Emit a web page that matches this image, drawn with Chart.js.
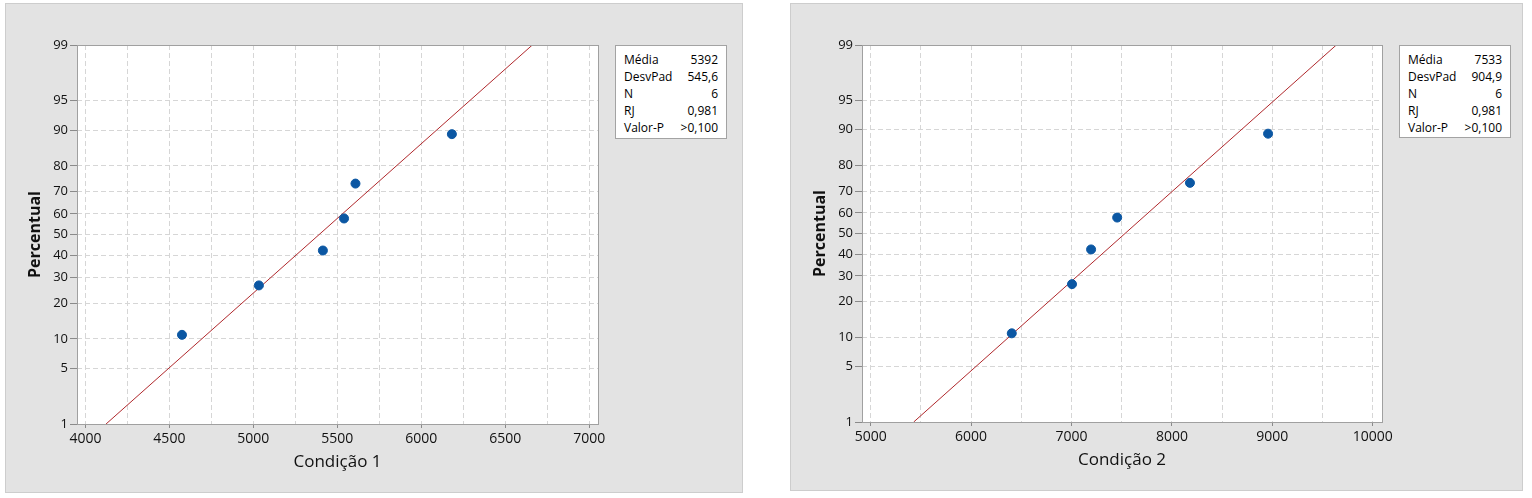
<!DOCTYPE html>
<html>
<head>
<meta charset="utf-8">
<script src="https://cdn.jsdelivr.net/npm/chart.js@4/dist/chart.umd.min.js"></script>
<style>
  body { margin: 0; background: #fff; width: 1532px; height: 498px; position: relative; font-family: 'Open Sans', sans-serif; }
  .panel { position: absolute; background: #e3e3e3; border: 1px solid #cdcdcd; box-sizing: border-box; }
  .panel canvas { position: absolute; left: 0; top: 0; }
  .stats { position: absolute; background: #fff; border: 1px solid #a3a3a3; box-sizing: border-box;
           font-size: 12px; color: #000; padding: 5px 8px 0 8px; }
  .stats div { display: flex; justify-content: space-between; height: 17px; line-height: 17px; }
</style>
</head>
<body>
<div class="panel" style="left:5px;top:3px;width:738px;height:490px;">
  <canvas id="chart1" width="736" height="488"></canvas>
  <div class="stats" id="s1" style="left:609px;top:41px;width:112px;height:94px;"></div>
</div>
<div class="panel" style="left:790px;top:3px;width:733px;height:488px;">
  <canvas id="chart2" width="731" height="486"></canvas>
  <div class="stats" id="s2" style="left:608px;top:41px;width:112px;height:93px;"></div>
</div>
<script>
// percent ranks of the 6 sorted observations
const percentRanks = [10.9, 26.6, 42.2, 57.8, 73.4, 89.1]
const cond1 = [4575, 5033, 5414, 5540, 5608, 6182]
const cond2 = [6405, 7005, 7195, 7455, 8180, 8958]
// fitted line, x at 1% and at 99%
const fitPercent = [1, 99]
const fit1 = [4123, 6661]
const fit2 = [5428, 9638]
const yTickLabels = [1, 5, 10, 20, 30, 40, 50, 60, 70, 80, 90, 95, 99]
const xGrid1 = [4000, 4250, 4500, 4750, 5000, 5250, 5500, 5750, 6000, 6250, 6500, 6750, 7000]
const xLabels1 = [4000, 4500, 5000, 5500, 6000, 6500, 7000]
const xGrid2 = [5000, 5500, 6000, 6500, 7000, 7500, 8000, 8500, 9000, 9500, 10000]
const xLabels2 = [5000, 6000, 7000, 8000, 9000, 10000]
const statLabels = ['Média', 'DesvPad', 'N', 'RJ', 'Valor-P']
const stats1 = ['5392', '545,6', '6', '0,981', '>0,100']
const stats2 = ['7533', '904,9', '6', '0,981', '>0,100']

// inverse normal cdf (Acklam), used for the probability axis
function probit(p) {
  const a = [-39.69683028665376, 220.9460984245205, -275.9285104469687, 138.3577518672690, -30.66479806614716, 2.506628277459239]
  const b = [-54.47609879822406, 161.5858368580409, -155.6989798598866, 66.80131188771972, -13.28068155288572]
  const c = [-0.007784894002430293, -0.3223964580411365, -2.400758277161838, -2.549732539343734, 4.374664141464968, 2.938163982698783]
  const d = [0.007784695709041462, 0.3224671290700398, 2.445134137142996, 3.754408661907416]
  const pl = 0.02425
  let q, r
  if (p < pl) {
    q = Math.sqrt(-2 * Math.log(p))
    return (((((c[0]*q+c[1])*q+c[2])*q+c[3])*q+c[4])*q+c[5]) / ((((d[0]*q+d[1])*q+d[2])*q+d[3])*q+1)
  }
  if (p <= 1 - pl) {
    q = p - 0.5
    r = q * q
    return (((((a[0]*r+a[1])*r+a[2])*r+a[3])*r+a[4])*r+a[5])*q / (((((b[0]*r+b[1])*r+b[2])*r+b[3])*r+b[4])*r+1)
  }
  q = Math.sqrt(-2 * Math.log(1 - p))
  return -(((((c[0]*q+c[1])*q+c[2])*q+c[3])*q+c[4])*q+c[5]) / ((((d[0]*q+d[1])*q+d[2])*q+d[3])*q+1)
}
const z = (pct) => probit(pct / 100)

const frameBox = {
  id: 'frameBox',
  beforeDraw(chart) {
    const { ctx, chartArea: a } = chart
    ctx.save()
    ctx.fillStyle = '#fff'
    ctx.fillRect(a.left, a.top, a.right - a.left, a.bottom - a.top)
    ctx.restore()
  },
  afterDraw(chart) {
    const { ctx, chartArea: a } = chart
    ctx.save()
    ctx.strokeStyle = '#a0a0a0'
    ctx.lineWidth = 1
    ctx.strokeRect(Math.round(a.left) + 0.5, Math.round(a.top) + 0.5, Math.round(a.right - a.left), Math.round(a.bottom - a.top))
    ctx.restore()
  },
}

function makeChart(id, xs, fit, xTitle, xMin, xMax, xGrid, xLabels, yWidth, pad) {
  new Chart(document.getElementById(id), {
    type: 'scatter',
    data: {
      datasets: [
        {
          data: xs.map((x, i) => ({ x: x, y: z(percentRanks[i]) })),
          backgroundColor: '#0b57a3',
          borderColor: '#0b57a3',
          pointRadius: 4.5,
          order: 1,
        },
        {
          type: 'line',
          data: fit.map((x, i) => ({ x: x, y: z(fitPercent[i]) })),
          borderColor: '#b0282c',
          borderWidth: 1,
          pointRadius: 0,
          order: 2,
        },
      ],
    },
    plugins: [frameBox],
    options: {
      responsive: false,
      animation: false,
      layout: { padding: pad },
      plugins: { legend: { display: false }, tooltip: { enabled: false } },
      scales: {
        x: {
          type: 'linear',
          min: xMin,
          max: xMax,
          afterFit: (s) => { s.height = 68 },
          afterBuildTicks: (s) => { s.ticks = xGrid.map((v) => ({ value: v })) },
          border: { display: false, dash: [5, 3] },
          grid: {
            color: '#d6d6d6',
            tickLength: 4,
            tickColor: (ctx) => (ctx.tick && xLabels.includes(ctx.tick.value) ? '#8a8a8a' : 'transparent'),
          },
          ticks: {
            autoSkip: false,
            maxRotation: 0,
            padding: 3,
            color: '#111',
            font: { family: 'Open Sans', size: 14 },
            callback: (v) => (xLabels.includes(v) ? String(v) : ''),
          },
          title: {
            display: true,
            text: xTitle,
            color: '#111',
            font: { family: 'Open Sans', size: 17 },
            padding: { top: 0, bottom: 20 },
          },
        },
        y: {
          type: 'linear',
          min: z(yTickLabels[0]),
          max: z(yTickLabels[yTickLabels.length - 1]),
          afterFit: (s) => { s.width = yWidth },
          afterBuildTicks: (s) => { s.ticks = yTickLabels.map((p) => ({ value: z(p) })) },
          border: { display: false, dash: [5, 3] },
          grid: {
            color: '#d6d6d6',
            tickLength: 7,
            tickColor: '#8a8a8a',
          },
          ticks: {
            autoSkip: false,
            padding: 2,
            color: '#111',
            font: { family: 'Open Sans', size: 13 },
            callback: (v, i) => String(yTickLabels[i]),
          },
          title: {
            display: true,
            text: 'Percentual',
            color: '#111',
            font: { family: 'Open Sans', size: 16, weight: 'bold' },
            padding: { top: 20, bottom: 0 },
          },
        },
      },
    },
  })
}

function fillStats(id, values) {
  document.getElementById(id).innerHTML = statLabels
    .map((l, i) => '<div><span>' + l + '</span><span>' + values[i] + '</span></div>')
    .join('')
}

fillStats('s1', stats1)
fillStats('s2', stats2)
makeChart('chart1', cond1, fit1, 'Condição 1', 3950, 7052, xGrid1, xLabels1, 71, { left: 0, top: 41, right: 144, bottom: 0 })
makeChart('chart2', cond2, fit2, 'Condição 2', 4913, 10093, xGrid2, xLabels2, 71, { left: 0, top: 41, right: 140, bottom: 0 })
</script>
</body>
</html>
